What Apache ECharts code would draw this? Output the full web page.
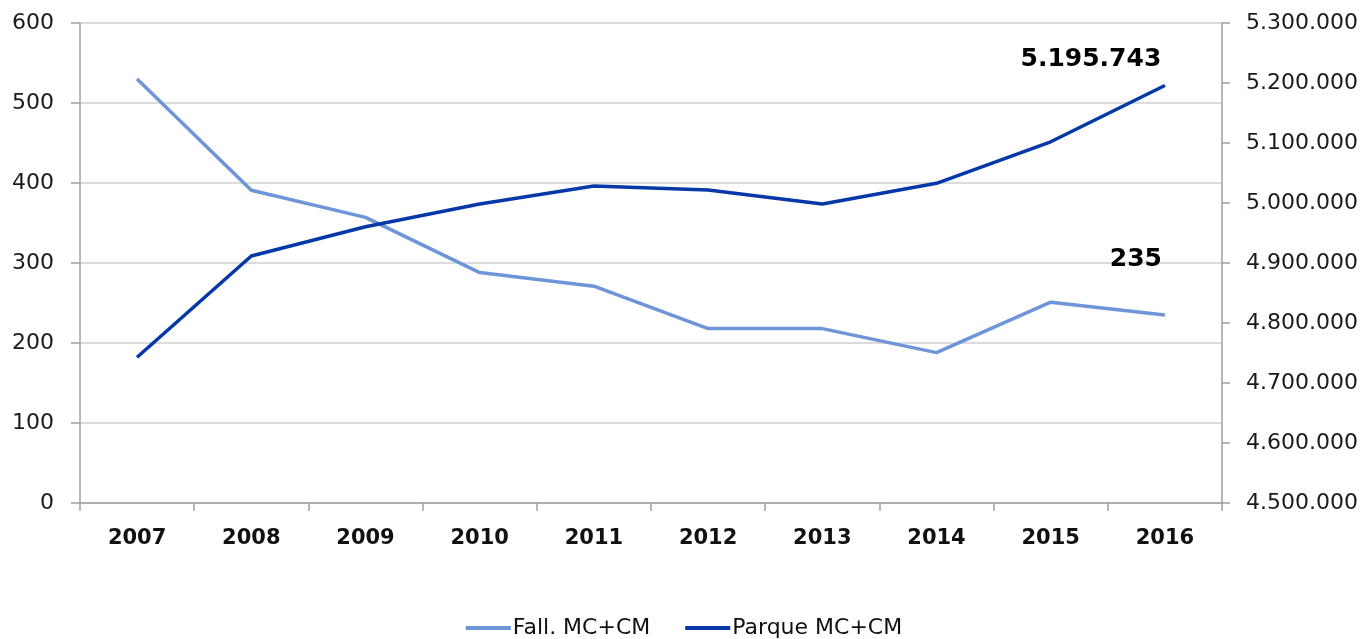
<!DOCTYPE html>
<html>
<head>
<meta charset="utf-8">
<title>Fall. MC+CM / Parque MC+CM</title>
<script src="https://cdn.jsdelivr.net/npm/echarts@6/dist/echarts.min.js"></script>
<style>
  html, body { margin: 0; padding: 0; background: #fff; }
  #chart { width: 1368px; height: 639px; }
</style>
</head>
<body>
<div id="chart"></div>
<script>
// Data
var years = ['2007', '2008', '2009', '2010', '2011', '2012', '2013', '2014', '2015', '2016'];
var fallecidos = [530, 391, 357, 288, 271, 218, 218, 188, 251, 235];
var parque = [4743000, 4911700, 4960500, 4998300, 5028300, 5021700, 4998300, 5032800, 5102000, 5195743];
var seriesNames = ['Fall. MC+CM', 'Parque MC+CM'];

// Thousands with dots, as in the original
var fmtMiles = function (v) {
    return String(Math.round(v)).replace(/\B(?=(\d{3})+(?!\d))/g, '.');
};

// Only the last point of each line carries a label
var withLastLabel = function (arr, offset) {
    return arr.map(function (v, i) {
        if (i !== arr.length - 1) return v;
        return {
            value: v,
            label: {
                show: true,
                position: 'top',
                offset: offset,
                formatter: function (p) { return fmtMiles(p.value); },
                color: '#000',
                fontWeight: 'bold',
                fontSize: 25,
                fontFamily: 'DejaVu Sans'
            }
        };
    });
};

var chartOption = {
    // Define colors
    color: ['#6f95d9', '#0638a8'],

    // Global text styles
    textStyle: {
        fontFamily: 'DejaVu Sans',
        fontSize: 22
    },

    animation: false,

    // Setup grid
    grid: {
        left: 80,
        right: 146,
        top: 23,
        bottom: 136,
        containLabel: false
    },

    // Add legend
    legend: {
        data: seriesNames,
        top: 612,
        itemWidth: 45,
        itemHeight: 14,
        itemGap: 35,
        icon: 'path://M0,6 L45,6 L45,10 L0,10 Z',
        textStyle: {
            color: '#111',
            fontSize: 22,
            fontFamily: 'DejaVu Sans',
            padding: [0, 0, 0, -3]
        }
    },

    // Horizontal axis
    xAxis: [{
        type: 'category',
        data: years,
        boundaryGap: true,
        axisLine: {
            lineStyle: { color: '#a0a0a0', width: 1.5 }
        },
        axisTick: {
            show: true,
            length: 8,
            lineStyle: { color: '#a0a0a0', width: 1.5 }
        },
        axisLabel: {
            color: '#111',
            fontWeight: 'bold',
            fontSize: 21,
            margin: 25
        }
    }],

    // Vertical axes
    yAxis: [{
        type: 'value',
        min: 0,
        max: 600,
        interval: 100,
        axisLine: {
            show: true,
            lineStyle: { color: '#a0a0a0', width: 1.5 }
        },
        axisTick: {
            show: true,
            length: 9,
            lineStyle: { color: '#a0a0a0', width: 1.5 }
        },
        axisLabel: {
            color: '#1a1a1a',
            fontSize: 22,
            margin: 26
        },
        splitLine: {
            lineStyle: { color: '#d0d0d0', width: 1.5 }
        }
    }, {
        type: 'value',
        position: 'right',
        min: 4500000,
        max: 5300000,
        interval: 100000,
        axisLine: {
            show: true,
            lineStyle: { color: '#a0a0a0', width: 1.5 }
        },
        axisTick: {
            show: true,
            length: 8,
            lineStyle: { color: '#a0a0a0', width: 1.5 }
        },
        axisLabel: {
            color: '#1a1a1a',
            fontSize: 22,
            margin: 24,
            formatter: fmtMiles
        },
        splitLine: { show: false }
    }],

    // Add series (tiny symbols so the end labels can render)
    series: [
        {
            name: seriesNames[0],
            type: 'line',
            yAxisIndex: 0,
            symbol: 'circle',
            symbolSize: 1,
            showSymbol: true,
            data: withLastLabel(fallecidos, [-29, -38]),
            lineStyle: { width: 3.5, color: '#6f95d9' },
            z: 2
        },
        {
            name: seriesNames[1],
            type: 'line',
            yAxisIndex: 1,
            symbol: 'circle',
            symbolSize: 1,
            showSymbol: true,
            data: withLastLabel(parque, [-74, -8]),
            lineStyle: { width: 3.5, color: '#0638a8' },
            z: 3
        }
    ]
};

var chart = echarts.init(document.getElementById('chart'));
chart.setOption(chartOption);
</script>
</body>
</html>
